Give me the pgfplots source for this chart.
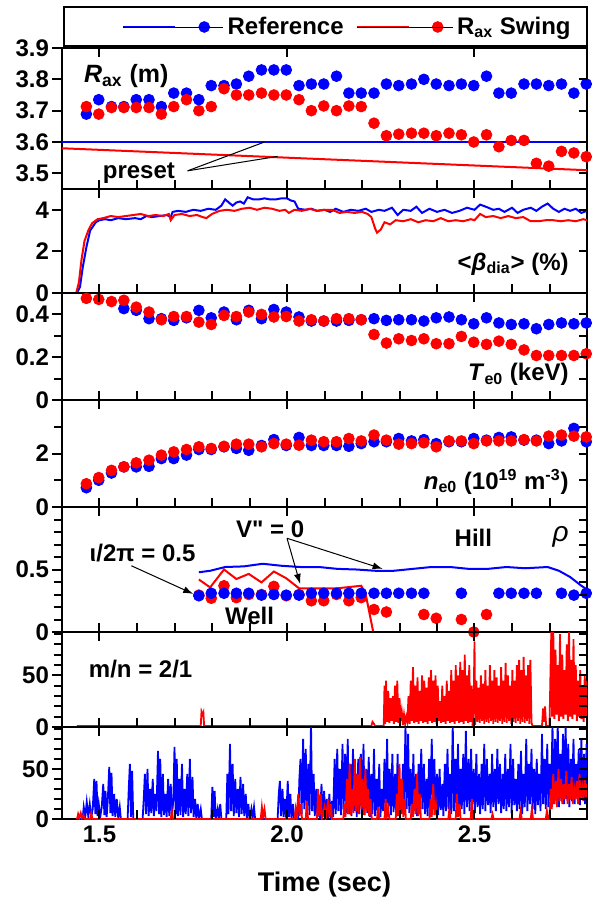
\documentclass[border=0pt]{standalone}
\usepackage{fontspec}
\setmainfont{Liberation Sans}
\usepackage{pgfplots}
\usepackage{pgfplotstable}
\pgfplotsset{compat=1.18}
\usetikzlibrary{arrows.meta}

\definecolor{refblue}{RGB}{0,0,255}
\definecolor{swred}{RGB}{255,0,0}

% R_ax: time, reference, swing
\pgfplotstableread{
t b r
1.465 3.689 3.713
1.498 3.735 3.689
1.532 3.713 3.710
1.565 3.713 3.710
1.598 3.735 3.710
1.632 3.735 3.710
1.665 3.713 3.689
1.698 3.756 3.713
1.732 3.756 3.735
1.765 3.735 3.700
1.798 3.780 3.713
1.832 3.780 3.770
1.865 3.785 3.750
1.898 3.810 3.750
1.932 3.830 3.756
1.965 3.830 3.750
1.998 3.830 3.750
2.032 3.780 3.735
2.065 3.785 3.700
2.098 3.785 3.715
2.132 3.810 3.700
2.165 3.756 3.715
2.198 3.756 3.713
2.232 3.756 3.660
2.265 3.785 3.620
2.298 3.780 3.625
2.332 3.785 3.628
2.365 3.800 3.628
2.398 3.785 3.620
2.432 3.780 3.628
2.465 3.785 3.623
2.498 3.780 3.600
2.532 3.810 3.623
2.565 3.756 3.585
2.598 3.756 3.605
2.632 3.785 3.605
2.665 3.785 3.532
2.698 3.780 3.523
2.732 3.785 3.570
2.765 3.756 3.565
2.798 3.785 3.553
}\rax

% T_e0
\pgfplotstableread{
t b r
1.465 nan 0.475
1.498 nan 0.470
1.532 nan 0.460
1.565 0.427 0.466
1.598 0.419 0.434
1.632 0.380 0.411
1.665 0.380 0.375
1.698 0.372 0.390
1.732 0.384 0.390
1.765 0.419 0.364
1.798 0.384 0.353
1.832 0.411 0.395
1.865 0.375 0.390
1.898 0.419 0.411
1.932 0.380 0.400
1.965 0.423 0.388
1.998 0.411 0.390
2.032 0.388 0.369
2.065 0.369 0.375
2.098 0.369 0.369
2.132 0.369 0.380
2.165 0.372 0.380
2.198 0.375 0.375
2.232 0.380 0.306
2.265 0.372 0.266
2.298 0.375 0.286
2.332 0.375 0.278
2.365 0.369 0.286
2.398 0.384 0.263
2.432 0.388 0.263
2.465 0.375 0.297
2.498 0.356 0.270
2.532 0.384 0.260
2.565 0.360 0.275
2.598 0.353 0.260
2.632 0.356 0.234
2.665 0.333 0.208
2.698 0.353 0.208
2.732 0.360 0.208
2.765 0.356 0.208
2.798 0.360 0.216
}\teo

% n_e0
\pgfplotstableread{
t b r
1.465 0.72 0.87
1.498 1.00 1.10
1.532 1.27 1.37
1.565 1.50 1.50
1.598 1.50 1.65
1.632 1.52 1.75
1.665 1.81 1.94
1.698 1.81 2.06
1.732 1.94 2.15
1.765 2.15 2.25
1.798 2.15 2.19
1.832 2.25 2.27
1.865 2.19 2.35
1.898 2.12 2.35
1.932 2.30 2.25
1.965 2.52 2.37
1.998 2.30 2.35
2.032 2.60 2.31
2.065 2.30 2.50
2.098 2.30 2.44
2.132 2.30 2.44
2.165 2.27 2.56
2.198 2.37 2.47
2.232 2.44 2.69
2.265 2.44 2.50
2.298 2.56 2.35
2.332 2.47 2.37
2.365 2.52 2.40
2.398 2.37 2.25
2.432 2.44 2.47
2.465 2.44 2.47
2.498 2.56 2.37
2.532 2.50 2.47
2.565 2.60 2.47
2.598 2.62 2.47
2.632 2.50 2.52
2.665 2.50 2.47
2.698 2.37 2.65
2.732 2.47 2.69
2.765 2.94 2.65
2.798 2.44 2.62
}\neo

\pgfplotsset{
  panel/.style={
    scale only axis, width=262.5pt, anchor=north west,
    xmin=1.4, xmax=2.8, ymin=0,
    xtick={1.5,2.0,2.5},
    xticklabels={}, xtick pos=bottom, ytick pos=left,
    tick align=inside,
    major tick length=5pt, minor tick length=4pt,
    major y tick style={xshift=-5pt},
    minor y tick style={xshift=-4pt},
    major x tick style={draw=none},
    tick style={line width=1pt, black},
    axis line style={line width=1pt},
    tick label style={font=\bfseries\fontsize{12}{12}\selectfont},
    yticklabel style={xshift=-3pt},
    /pgf/number format/assume math mode=true,
    rticks/.initial={},
    extra description/.code={
      \foreach \f in {0.07143,0.14286,0.21429,0.28571,0.35714,0.42857,0.5,0.57143,0.64286,0.71429,0.78571,0.85714,0.92857}
        {\draw[line width=1pt] (axis description cs:\f,0) -- ++(0pt,4.5pt);}
      \foreach \f in {0.07143,0.42857,0.78571}
        {\draw[line width=1pt] (axis description cs:\f,1) -- ++(0pt,-4.5pt);}
      \edef\rlist{\pgfkeysvalueof{/pgfplots/rticks}}
      \foreach \f in \rlist
        {\draw[line width=1pt] (axis description cs:1,\f) -- ++(-4pt,0pt);}
    },
  },
  dots/.style={only marks, mark=*, mark size=2.7pt, color=#1},
  trace/.style={no markers, line width=1pt, color=#1},
  noise/.style={no markers, line width=0.9pt, color=#1},
}

\begin{document}
\begin{tikzpicture}[font=\bfseries\fontsize{12}{14}\selectfont]
\path (-31pt,24pt) rectangle (263.5pt,-426pt);
\draw[line width=0.8pt] (1pt,1pt) rectangle (262.5pt,20.5pt);

% panel 1: R_ax
\begin{axis}[panel, at={(0pt,0pt)}, height=70.5pt,
  ymin=3.45, ymax=3.9, ytick={3.5,3.6,3.7,3.8,3.9},
  rticks={0.111,0.333,0.556,0.778},
  yticklabel style={/pgf/number format/.cd, fixed, fixed zerofill, precision=1},
  legend style={at={(axis description cs:0.114,1.149)}, anchor=west, draw=none, fill=none,
    inner sep=0pt, legend columns=2, font=\bfseries\fontsize{12}{12}\selectfont,
    /tikz/every even column/.append style={column sep=4pt}},
  legend cell align=left]
\addlegendimage{legend image code/.code={
  \draw[refblue,line width=1pt] (0pt,0pt)--(26pt,0pt);
  \draw[refblue,only marks,mark=*,mark size=2.7pt] plot coordinates {(40.5pt,0pt)};
  \path (0pt,0pt)--(50pt,0pt);}}
\addlegendentry{Reference}
\addlegendimage{legend image code/.code={
  \draw[swred,line width=1pt] (0pt,0pt)--(26pt,0pt);
  \draw[swred,only marks,mark=*,mark size=2.7pt] plot coordinates {(40.5pt,0pt)};
  \path (0pt,0pt)--(48pt,0pt);}}
\addlegendentry{R\textsubscript{ax} Swing}
\addplot[trace=refblue, forget plot] coordinates {(1.4,3.60) (2.8,3.60)};
\addplot[trace=swred, forget plot] coordinates {(1.4,3.58) (2.8,3.51)};
\addplot[dots=refblue, forget plot] table[x=t, y=b] {\rax};
\addplot[dots=swred, forget plot] table[x=t, y=r] {\rax};
\node[anchor=west, font=\bfseries\fontsize{12.5}{14}\selectfont] at (axis cs:1.44,3.81) {\textit{R}\textsubscript{ax} (m)};
\node at (axis cs:1.605,3.50) {preset};
\draw[line width=0.5pt] (axis cs:1.735,3.508) -- (axis cs:1.94,3.60);
\draw[line width=0.5pt] (axis cs:1.735,3.508) -- (axis cs:1.975,3.554);
\end{axis}

% panel 2: beta
\begin{axis}[panel, at={(0pt,-70.5pt)}, height=52pt, ymax=5, ytick={0,2,4},
  rticks={0.4,0.8}]
\addplot[trace=refblue] coordinates {
(1.40,0) (1.44,0) (1.448,0.3) (1.455,1.2) (1.465,2.2) (1.475,3.0) (1.49,3.4) (1.50,3.5)
(1.515,3.55) (1.53,3.5) (1.55,3.6) (1.57,3.55) (1.595,3.6) (1.61,3.55) (1.625,3.7) (1.64,3.65)
(1.66,3.7) (1.68,3.75) (1.69,3.65) (1.695,3.9) (1.71,3.95) (1.73,3.9) (1.75,4.0) (1.77,3.95)
(1.79,4.05) (1.81,4.0) (1.825,4.2) (1.835,4.5) (1.845,4.35) (1.855,4.2) (1.865,4.35) (1.875,4.4)
(1.885,4.3) (1.895,4.6) (1.91,4.5) (1.925,4.5) (1.94,4.55) (1.955,4.5) (1.97,4.5) (1.985,4.55)
(2.0,4.55) (2.01,4.45) (2.02,4.4) (2.03,4.05) (2.05,4.0) (2.065,4.05) (2.08,3.95) (2.10,4.0)
(2.115,3.9) (2.13,4.05) (2.15,3.9) (2.17,4.0) (2.19,3.95) (2.21,4.05) (2.225,3.9) (2.245,4.0)
(2.26,3.95) (2.28,4.1) (2.295,3.75) (2.31,4.0) (2.33,3.95) (2.345,4.15) (2.36,3.85) (2.38,4.05)
(2.40,3.9) (2.42,4.0) (2.44,3.85) (2.46,3.95) (2.48,4.1) (2.50,4.0) (2.515,4.25) (2.53,4.15)
(2.55,4.0) (2.565,4.05) (2.58,3.9) (2.60,4.1) (2.615,3.85) (2.63,4.0) (2.65,4.1) (2.665,3.95)
(2.68,4.15) (2.695,4.3) (2.71,4.05) (2.725,3.9) (2.74,4.05) (2.755,3.95) (2.77,4.05) (2.785,3.85) (2.80,3.95)};
\addplot[trace=swred] coordinates {
(1.40,0) (1.438,0) (1.445,0.5) (1.452,1.6) (1.46,2.5) (1.47,3.0) (1.48,3.35) (1.495,3.55)
(1.51,3.6) (1.53,3.7) (1.55,3.65) (1.57,3.7) (1.59,3.75) (1.61,3.8) (1.63,3.7) (1.65,3.75)
(1.67,3.7) (1.685,3.8) (1.69,3.5) (1.70,3.75) (1.72,3.8) (1.74,3.7) (1.76,3.75) (1.775,3.65)
(1.785,3.6) (1.80,3.8) (1.82,3.95) (1.84,4.0) (1.86,3.95) (1.88,4.05) (1.90,4.1) (1.92,4.0)
(1.94,4.1) (1.96,4.05) (1.98,3.95) (1.995,4.0) (2.005,3.85) (2.02,4.0) (2.04,3.95) (2.06,4.05)
(2.08,3.95) (2.10,4.0) (2.12,4.0) (2.14,3.85) (2.16,3.9) (2.18,3.85) (2.20,3.9) (2.215,3.8)
(2.225,3.65) (2.235,3.1) (2.24,2.9) (2.25,3.05) (2.26,3.4) (2.275,3.3) (2.29,3.5) (2.31,3.45)
(2.33,3.55) (2.35,3.4) (2.37,3.5) (2.39,3.45) (2.41,3.6) (2.43,3.45) (2.45,3.5) (2.47,3.45)
(2.49,3.55) (2.50,3.5) (2.515,3.8) (2.53,3.65) (2.55,3.7) (2.57,3.6) (2.59,3.7) (2.61,3.6)
(2.63,3.65) (2.65,3.45) (2.67,3.45) (2.69,3.5) (2.71,3.5) (2.73,3.45) (2.75,3.5) (2.77,3.45) (2.79,3.55) (2.80,3.5)};
\node[anchor=east] at (axis cs:2.77,1.4) {<\textit{β}\textsubscript{dia}> (\%)};
\end{axis}

% panel 3: T_e0
\begin{axis}[panel, at={(0pt,-122.5pt)}, height=53.5pt, ymax=0.5,
  ytick={0,0.2,0.4}, minor ytick={0.1,0.3}, rticks={0.2,0.4,0.6,0.8}]
\addplot[dots=refblue] table[x=t, y=b] {\teo};
\addplot[dots=swred] table[x=t, y=r] {\teo};
\node[anchor=east] at (axis cs:2.77,0.12) {\textit{T}\textsubscript{e0} (keV)};
\end{axis}

% panel 4: n_e0
\begin{axis}[panel, at={(0pt,-176pt)}, height=53.5pt, ymax=4,
  ytick={0,2}, minor ytick={1,3}, rticks={0.25,0.5,0.75}]
\addplot[dots=refblue] table[x=t, y=b] {\neo};
\addplot[dots=swred] table[x=t, y=r] {\neo};
\node[anchor=east] at (axis cs:2.77,0.95) {\textit{n}\textsubscript{e0} (10\textsuperscript{19} m\textsuperscript{-3})};
\end{axis}

% panel 5: rho
\begin{axis}[panel, at={(0pt,-229.5pt)}, height=62.5pt, ymax=1,
  ytick={0,0.5}, minor ytick={0.1,0.2,0.3,0.4,0.6,0.7,0.8,0.9},
  rticks={0.1,0.2,0.3,0.4,0.5,0.6,0.7,0.8,0.9}]
\addplot[trace=swred] coordinates {
(1.765,0.42) (1.795,0.357) (1.832,0.50) (1.865,0.424) (1.898,0.465) (1.932,0.397) (1.965,0.484)
(1.998,0.43) (2.032,0.35) (2.065,0.35) (2.135,0.35) (2.198,0.37) (2.21,0.30) (2.23,0.0) (2.80,0.0)};
\addplot[dots=swred] coordinates {
(1.765,0.295) (1.798,0.27) (1.832,0.37) (1.865,0.275) (1.898,0.30) (1.932,0.30) (1.965,0.365)
(1.998,0.29) (2.032,0.30) (2.065,0.25) (2.098,0.25) (2.132,0.30) (2.165,0.25) (2.198,0.275)
(2.232,0.18) (2.265,0.16) (2.365,0.14) (2.398,0.11) (2.465,0.10) (2.498,0.0) (2.532,0.14)};
\addplot[trace=refblue] coordinates {
(1.765,0.478) (1.795,0.49) (1.835,0.52) (1.885,0.525) (1.935,0.546) (1.985,0.53) (2.035,0.52)
(2.085,0.52) (2.135,0.505) (2.185,0.50) (2.235,0.49) (2.285,0.49) (2.335,0.505) (2.385,0.52)
(2.435,0.52) (2.485,0.505) (2.535,0.505) (2.585,0.52) (2.635,0.51) (2.695,0.52) (2.725,0.49)
(2.755,0.44) (2.785,0.37) (2.80,0.34)};
\addplot[dots=refblue] coordinates {
(1.765,0.29) (1.798,0.31) (1.832,0.31) (1.865,0.31) (1.898,0.31) (1.932,0.295) (1.965,0.30)
(1.998,0.295) (2.032,0.295) (2.065,0.31) (2.098,0.31) (2.132,0.31) (2.165,0.31) (2.198,0.31)
(2.232,0.31) (2.265,0.31) (2.298,0.31) (2.332,0.31) (2.365,0.31) (2.465,0.31) (2.565,0.31)
(2.598,0.31) (2.632,0.31) (2.665,0.31) (2.732,0.31) (2.765,0.295) (2.798,0.31)};
\node[anchor=west] at (axis cs:1.455,0.63) {ι/2π = 0.5};
\draw[-{Latex[length=5pt,width=3.5pt]}, line width=0.5pt] (axis cs:1.585,0.53) -- (axis cs:1.75,0.305);
\node at (axis cs:1.955,0.82) {V\textquotedbl{} = 0};
\draw[-{Latex[length=5pt,width=3.5pt]}, line width=0.5pt] (axis cs:2.0,0.75) -- (axis cs:2.255,0.505);
\draw[-{Latex[length=5pt,width=3.5pt]}, line width=0.5pt] (axis cs:2.0,0.75) -- (axis cs:2.035,0.385);
\node at (axis cs:2.497,0.75) {Hill};
\node[font=\mdseries\fontsize{14}{14}\selectfont] at (axis cs:2.73,0.76) {\textit{ρ}};
\node at (axis cs:1.9,0.13) {Well};
\end{axis}

% panel 6: m/n = 2/1
\begin{axis}[panel, at={(0pt,-292pt)}, height=47.5pt, ymax=92,
  ytick={0,50}, minor ytick={10,20,30,40,60,70,80,90},
  rticks={0.1087,0.2174,0.3261,0.4348,0.5435,0.6522,0.7609,0.8696,0.9783}]
\addplot[noise=swred] table[row sep=\\] {t v\\
1.440 1\\ 1.770 1\\ 1.772 15\\ 1.775 12\\ 1.777 14\\ 1.779 1\\ 2.225 1\\ 2.228 5\\ 2.232 3\\ 2.235 1\\
2.258 1\\ 2.260 40\\ 2.262 3\\ 2.264 45\\ 2.267 5\\ 2.270 35\\ 2.273 4\\ 2.276 28\\ 2.279 6\\ 2.282 30\\
2.285 3\\ 2.288 40\\ 2.291 5\\ 2.294 45\\ 2.297 4\\ 2.300 28\\ 2.303 6\\ 2.306 15\\ 2.309 2\\ 2.312 12\\
2.315 3\\ 2.318 10\\ 2.321 5\\ 2.324 30\\ 2.327 3\\ 2.330 45\\ 2.333 6\\ 2.336 58\\ 2.339 4\\ 2.342 40\\
2.345 5\\ 2.348 48\\ 2.351 3\\ 2.354 35\\ 2.357 6\\ 2.360 50\\ 2.363 4\\ 2.366 45\\ 2.369 5\\ 2.372 38\\
2.375 3\\ 2.378 48\\ 2.381 6\\ 2.384 55\\ 2.387 4\\ 2.390 45\\ 2.393 5\\ 2.396 50\\ 2.399 3\\ 2.402 40\\
2.405 6\\ 2.408 25\\ 2.411 4\\ 2.414 40\\ 2.417 5\\ 2.420 30\\ 2.423 3\\ 2.426 45\\ 2.429 6\\ 2.432 35\\
2.435 4\\ 2.438 55\\ 2.441 5\\ 2.444 45\\ 2.447 3\\ 2.450 60\\ 2.453 6\\ 2.456 50\\ 2.459 4\\ 2.462 63\\
2.465 5\\ 2.468 55\\ 2.471 3\\ 2.474 70\\ 2.477 6\\ 2.480 50\\ 2.483 4\\ 2.486 60\\ 2.489 5\\ 2.492 40\\
2.495 0\\ 2.498 30\\ 2.500 83\\ 2.502 2\\ 2.505 45\\ 2.508 5\\ 2.511 38\\ 2.514 4\\ 2.517 50\\ 2.520 6\\
2.523 42\\ 2.526 3\\ 2.529 55\\ 2.532 5\\ 2.535 40\\ 2.538 4\\ 2.541 60\\ 2.544 6\\ 2.547 45\\ 2.550 3\\
2.553 55\\ 2.556 5\\ 2.559 48\\ 2.562 4\\ 2.565 40\\ 2.568 6\\ 2.571 58\\ 2.574 3\\ 2.577 45\\ 2.580 5\\
2.583 62\\ 2.586 4\\ 2.589 50\\ 2.592 6\\ 2.595 40\\ 2.598 3\\ 2.601 55\\ 2.604 5\\ 2.607 45\\ 2.610 4\\
2.613 60\\ 2.616 6\\ 2.619 65\\ 2.622 3\\ 2.625 55\\ 2.628 5\\ 2.631 68\\ 2.634 4\\ 2.637 50\\ 2.640 6\\
2.643 60\\ 2.646 3\\ 2.649 65\\ 2.652 4\\ 2.655 1\\ 2.680 1\\ 2.683 18\\ 2.686 5\\ 2.688 20\\ 2.691 1\\
2.700 1\\ 2.703 60\\ 2.705 95\\ 2.707 10\\ 2.710 95\\ 2.713 8\\ 2.716 75\\ 2.719 12\\ 2.722 60\\ 2.725 6\\
2.728 90\\ 2.731 10\\ 2.734 70\\ 2.737 8\\ 2.740 55\\ 2.743 12\\ 2.746 80\\ 2.749 6\\ 2.752 95\\ 2.755 10\\
2.758 65\\ 2.761 8\\ 2.764 85\\ 2.767 12\\ 2.770 60\\ 2.773 6\\ 2.776 45\\ 2.779 10\\ 2.782 55\\ 2.785 8\\
2.788 40\\ 2.791 5\\ 2.794 50\\ 2.797 10\\ 2.800 45\\
};
\node[anchor=west] at (axis cs:1.453,56) {m/n = 2/1};
\end{axis}

% panel 7
\begin{axis}[panel, at={(0pt,-339.5pt)}, height=46pt, ymax=92,
  ytick={0,50}, minor ytick={10,20,30,40,60,70,80,90},
  rticks={0.1087,0.2174,0.3261,0.4348,0.5435,0.6522,0.7609,0.8696,0.9783},
  xticklabels={1.5,2.0,2.5},
  xlabel={Time (sec)}, xlabel style={font=\bfseries\fontsize{13.5}{14}\selectfont,
    at={(axis description cs:0.5,0)}, anchor=center, inner sep=0pt, yshift=-33pt}]
\addplot[noise=refblue] table[row sep=\\] {t v\\
1.440 0\\ 1.455 0\\ 1.458 12\\ 1.462 2\\ 1.466 17\\ 1.470 3\\ 1.474 15\\ 1.478 2\\ 1.482 10\\ 1.486 40\\
1.489 5\\ 1.492 38\\ 1.495 3\\ 1.498 15\\ 1.502 2\\ 1.506 12\\ 1.510 35\\ 1.513 4\\ 1.516 28\\ 1.519 2\\
1.522 18\\ 1.526 52\\ 1.529 6\\ 1.532 46\\ 1.535 3\\ 1.539 25\\ 1.542 2\\ 1.546 20\\ 1.550 1\\ 1.554 12\\
1.557 0\\ 1.575 0\\ 1.578 30\\ 1.581 55\\ 1.584 2\\ 1.587 48\\ 1.590 0\\ 1.615 0\\ 1.618 20\\ 1.621 45\\
1.624 5\\ 1.628 50\\ 1.631 3\\ 1.635 30\\ 1.638 6\\ 1.642 40\\ 1.645 3\\ 1.649 25\\ 1.652 8\\ 1.656 68\\
1.659 5\\ 1.662 60\\ 1.665 2\\ 1.669 45\\ 1.672 4\\ 1.676 25\\ 1.679 2\\ 1.683 40\\ 1.686 3\\ 1.690 35\\
1.693 2\\ 1.697 20\\ 1.700 72\\ 1.703 5\\ 1.706 60\\ 1.709 3\\ 1.713 40\\ 1.716 4\\ 1.720 55\\ 1.723 2\\
1.727 30\\ 1.730 5\\ 1.734 45\\ 1.737 3\\ 1.741 60\\ 1.744 6\\ 1.748 42\\ 1.751 2\\ 1.755 20\\ 1.758 1\\
1.762 15\\ 1.765 0\\ 1.770 10\\ 1.773 0\\ 1.798 0\\ 1.801 32\\ 1.804 2\\ 1.807 28\\ 1.810 0\\ 1.815 10\\
1.818 0\\ 1.822 15\\ 1.825 0\\ 1.838 0\\ 1.841 45\\ 1.844 5\\ 1.848 75\\ 1.851 8\\ 1.855 55\\ 1.858 3\\
1.862 40\\ 1.865 6\\ 1.869 30\\ 1.872 2\\ 1.876 42\\ 1.879 5\\ 1.883 35\\ 1.886 3\\ 1.890 25\\ 1.893 1\\
1.897 15\\ 1.900 0\\ 1.905 10\\ 1.908 0\\ 1.912 12\\ 1.915 0\\ 1.975 0\\ 1.978 25\\ 1.981 38\\ 1.984 3\\
1.988 30\\ 1.991 2\\ 1.995 20\\ 1.998 0\\ 2.002 38\\ 2.005 2\\ 2.009 25\\ 2.012 0\\ 2.016 15\\ 2.019 0\\
2.030 0\\ 2.033 40\\ 2.036 60\\ 2.039 5\\ 2.043 80\\ 2.046 10\\ 2.050 70\\ 2.053 6\\ 2.057 55\\ 2.060 4\\
2.064 95\\ 2.067 8\\ 2.071 45\\ 2.074 3\\ 2.078 30\\ 2.081 2\\ 2.085 20\\ 2.088 0\\ 2.092 35\\ 2.095 2\\
2.099 28\\ 2.102 0\\ 2.106 20\\ 2.109 1\\ 2.113 25\\ 2.116 0\\ 2.120 18\\ 2.123 2\\ 2.127 60\\ 2.130 5\\
2.134 70\\ 2.137 8\\ 2.141 50\\ 2.144 4\\ 2.148 75\\ 2.151 10\\ 2.155 65\\ 2.158 6\\ 2.162 80\\ 2.165 5\\
2.169 55\\ 2.172 3\\ 2.176 70\\ 2.179 8\\ 2.183 45\\ 2.186 2\\ 2.190 60\\ 2.193 5\\ 2.197 65\\ 2.200 7\\
2.204 75\\ 2.207 4\\ 2.211 50\\ 2.214 6\\ 2.218 62\\ 2.221 2\\ 2.225 45\\ 2.228 5\\ 2.232 70\\ 2.235 3\\
2.239 40\\ 2.242 6\\ 2.246 55\\ 2.249 2\\ 2.253 30\\ 2.256 8\\ 2.260 60\\ 2.263 5\\ 2.267 80\\ 2.270 10\\
2.274 50\\ 2.277 4\\ 2.281 65\\ 2.284 7\\ 2.288 45\\ 2.291 3\\ 2.295 65\\ 2.298 8\\ 2.302 40\\ 2.305 5\\
2.309 55\\ 2.312 9\\ 2.316 95\\ 2.319 10\\ 2.323 85\\ 2.326 6\\ 2.330 50\\ 2.333 4\\ 2.337 65\\ 2.340 8\\
2.344 45\\ 2.347 3\\ 2.351 55\\ 2.354 7\\ 2.358 70\\ 2.361 10\\ 2.365 55\\ 2.368 5\\ 2.372 40\\ 2.375 3\\
2.379 60\\ 2.382 8\\ 2.386 80\\ 2.389 12\\ 2.393 60\\ 2.396 6\\ 2.400 45\\ 2.403 4\\ 2.407 50\\ 2.410 9\\
2.414 35\\ 2.417 3\\ 2.421 55\\ 2.424 8\\ 2.428 70\\ 2.431 10\\ 2.435 45\\ 2.438 5\\ 2.442 95\\ 2.445 8\\
2.449 60\\ 2.452 12\\ 2.456 75\\ 2.459 6\\ 2.463 50\\ 2.466 10\\ 2.470 65\\ 2.473 5\\ 2.477 88\\ 2.480 12\\
2.484 60\\ 2.487 8\\ 2.491 70\\ 2.494 15\\ 2.498 50\\ 2.501 6\\ 2.505 65\\ 2.508 12\\ 2.512 45\\ 2.515 5\\
2.519 55\\ 2.522 10\\ 2.526 75\\ 2.529 8\\ 2.533 60\\ 2.536 14\\ 2.540 45\\ 2.543 6\\ 2.547 65\\ 2.550 12\\
2.554 50\\ 2.557 8\\ 2.561 70\\ 2.564 15\\ 2.568 55\\ 2.571 6\\ 2.575 45\\ 2.578 10\\ 2.582 65\\ 2.585 8\\
2.589 50\\ 2.592 12\\ 2.596 75\\ 2.599 6\\ 2.603 60\\ 2.606 14\\ 2.610 40\\ 2.613 8\\ 2.617 55\\ 2.620 10\\
2.624 68\\ 2.627 5\\ 2.631 45\\ 2.634 12\\ 2.638 80\\ 2.641 8\\ 2.645 55\\ 2.648 15\\ 2.652 70\\ 2.655 10\\
2.659 50\\ 2.662 5\\ 2.666 60\\ 2.669 14\\ 2.673 45\\ 2.676 8\\ 2.680 85\\ 2.683 15\\ 2.687 60\\ 2.690 10\\
2.694 75\\ 2.697 12\\ 2.701 55\\ 2.704 18\\ 2.708 95\\ 2.711 15\\ 2.715 80\\ 2.718 20\\ 2.722 95\\ 2.725 12\\
2.729 65\\ 2.732 18\\ 2.736 85\\ 2.739 15\\ 2.743 95\\ 2.746 20\\ 2.750 75\\ 2.753 12\\ 2.757 60\\ 2.760 18\\
2.764 80\\ 2.767 15\\ 2.771 55\\ 2.774 20\\ 2.778 70\\ 2.781 14\\ 2.785 80\\ 2.788 20\\ 2.792 65\\ 2.795 15\\
2.799 75\\
};
\addplot[noise=swred] table[row sep=\\] {t v\\
1.440 0\\ 1.443 5\\ 1.446 1\\ 1.450 6\\ 1.453 1\\ 1.457 4\\ 1.460 0\\ 1.475 0\\ 1.478 6\\ 1.481 0\\
1.690 0\\ 1.693 8\\ 1.696 0\\ 1.930 0\\ 1.933 12\\ 1.936 2\\ 1.940 10\\ 1.943 0\\ 2.020 0\\ 2.023 10\\
2.026 2\\ 2.030 25\\ 2.033 3\\ 2.037 15\\ 2.040 0\\ 2.050 0\\ 2.053 18\\ 2.056 0\\ 2.080 0\\ 2.083 30\\
2.086 3\\ 2.090 25\\ 2.093 0\\ 2.100 12\\ 2.103 0\\ 2.110 20\\ 2.113 2\\ 2.117 15\\ 2.120 0\\ 2.150 0\\
2.153 15\\ 2.156 2\\ 2.160 40\\ 2.163 5\\ 2.167 55\\ 2.170 4\\ 2.174 30\\ 2.177 6\\ 2.181 60\\ 2.184 8\\
2.188 45\\ 2.191 5\\ 2.195 62\\ 2.198 10\\ 2.202 40\\ 2.205 4\\ 2.209 50\\ 2.212 8\\ 2.216 30\\ 2.219 3\\
2.223 20\\ 2.226 0\\ 2.240 0\\ 2.243 12\\ 2.246 0\\ 2.260 0\\ 2.263 20\\ 2.266 2\\ 2.270 10\\ 2.273 0\\
2.290 0\\ 2.293 25\\ 2.296 3\\ 2.300 55\\ 2.303 5\\ 2.307 40\\ 2.310 2\\ 2.314 20\\ 2.317 0\\ 2.330 0\\
2.333 15\\ 2.336 2\\ 2.340 30\\ 2.343 5\\ 2.347 45\\ 2.350 3\\ 2.354 25\\ 2.357 0\\ 2.380 0\\ 2.383 20\\
2.386 2\\ 2.390 35\\ 2.393 4\\ 2.397 15\\ 2.400 0\\ 2.430 0\\ 2.433 10\\ 2.436 0\\ 2.450 0\\ 2.453 25\\
2.456 2\\ 2.460 15\\ 2.463 0\\ 2.490 0\\ 2.493 20\\ 2.496 0\\ 2.545 0\\ 2.548 5\\ 2.551 0\\ 2.620 0\\
2.623 8\\ 2.626 0\\ 2.650 0\\ 2.653 10\\ 2.656 0\\ 2.690 0\\ 2.693 8\\ 2.696 0\\ 2.700 0\\ 2.703 30\\
2.706 10\\ 2.710 45\\ 2.713 15\\ 2.717 38\\ 2.720 12\\ 2.724 50\\ 2.727 18\\ 2.731 40\\ 2.734 15\\ 2.738 35\\
2.741 20\\ 2.745 48\\ 2.748 15\\ 2.752 35\\ 2.755 20\\ 2.759 42\\ 2.762 15\\ 2.766 30\\ 2.769 20\\ 2.773 38\\
2.776 15\\ 2.780 45\\ 2.783 20\\ 2.787 32\\ 2.790 18\\ 2.794 40\\ 2.797 22\\ 2.800 35\\
};
\end{axis}
\end{tikzpicture}
\end{document}
